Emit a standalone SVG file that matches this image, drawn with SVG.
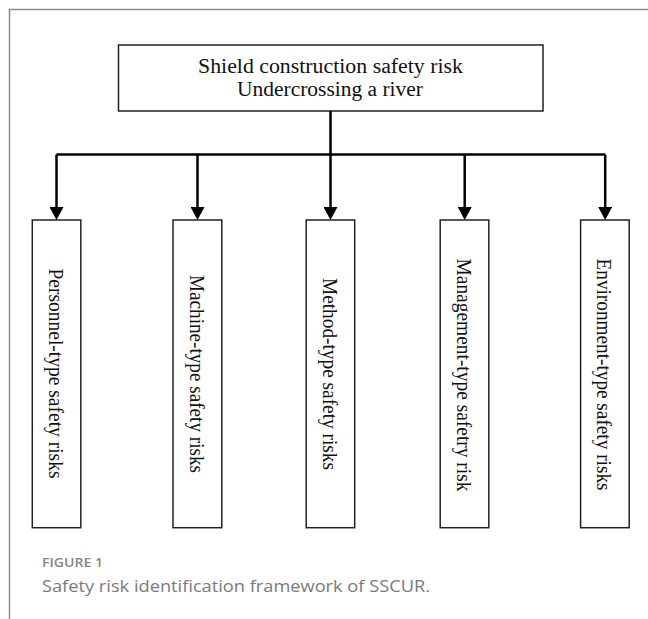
<svg xmlns="http://www.w3.org/2000/svg" width="648" height="619" viewBox="0 0 648 619">
  <style>
    .box { fill: #ffffff; stroke: #222222; stroke-width: 1.5; }
    .conn { fill: none; stroke: #000000; stroke-width: 2.5; }
    .t { font-family: "Liberation Serif", "Times New Roman", serif; fill: #111111; }
    .vt { font-family: "Liberation Serif", "Times New Roman", serif; font-size: 22px; fill: #111111; text-anchor: middle; dominant-baseline: central; }
    .cap1 { font-family: "Open Sans", "Noto Sans", sans-serif; font-size: 12.5px; font-weight: 600; fill: #858585; }
    .cap2 { font-family: "Open Sans", "Noto Sans", sans-serif; font-size: 16px; fill: #7a7a7a; }
  </style>
  <defs>
    <marker id="ah" markerUnits="userSpaceOnUse" markerWidth="14" markerHeight="14" refX="3" refY="7" orient="auto">
      <path d="M0,0 L13,7 L0,14 z" fill="#000000"/>
    </marker>
  </defs>
  <rect x="0" y="0" width="648" height="619" fill="#ffffff"/>
  <path d="M9.5,619 V9.5 H648" fill="none" stroke="#8a8a8a" stroke-width="1.5"/>

  <g id="root">
    <rect class="box" x="118.5" y="45" width="424.5" height="66"/>
    <text class="t" x="198" y="72.7" font-size="20.5" textLength="265" lengthAdjust="spacingAndGlyphs">Shield construction safety risk</text>
    <text class="t" x="237" y="96" font-size="20.5" textLength="186" lengthAdjust="spacingAndGlyphs">Undercrossing a river</text>
  </g>

  <g id="connectors">
    <path class="conn" d="M330.5,111 V154.5"/>
    <path class="conn" d="M56.5,154.5 H605.2"/>
    <path class="conn" d="M56.5,154.5 V210" marker-end="url(#ah)"/>
    <path class="conn" d="M197.5,154.5 V210" marker-end="url(#ah)"/>
    <path class="conn" d="M330.5,154.5 V210" marker-end="url(#ah)"/>
    <path class="conn" d="M464.7,154.5 V210" marker-end="url(#ah)"/>
    <path class="conn" d="M605.2,154.5 V210" marker-end="url(#ah)"/>
  </g>

  <g id="personnel">
    <rect class="box" x="32.3" y="220" width="48.5" height="307.7"/>
    <text class="vt" transform="translate(56.5,373.5) rotate(90)" textLength="210" lengthAdjust="spacingAndGlyphs">Personnel-type safety risks</text>
  </g>
  <g id="machine">
    <rect class="box" x="173" y="220" width="48.8" height="307.7"/>
    <text class="vt" transform="translate(197.4,374) rotate(90)" textLength="198" lengthAdjust="spacingAndGlyphs">Machine-type safety risks</text>
  </g>
  <g id="method">
    <rect class="box" x="306.2" y="220" width="48.5" height="307.7"/>
    <text class="vt" transform="translate(330.5,374) rotate(90)" textLength="192" lengthAdjust="spacingAndGlyphs">Method-type safety risks</text>
  </g>
  <g id="management">
    <rect class="box" x="440.2" y="220" width="48.6" height="307.7"/>
    <text class="vt" transform="translate(464.5,375) rotate(90)" textLength="233" lengthAdjust="spacingAndGlyphs">Management-type safetry risk</text>
  </g>
  <g id="environment">
    <rect class="box" x="580.6" y="220" width="48.6" height="307.7"/>
    <text class="vt" transform="translate(604.9,374.5) rotate(90)" textLength="232" lengthAdjust="spacingAndGlyphs">Environment-type safety risks</text>
  </g>

  <text class="cap1" x="42" y="567" textLength="61" lengthAdjust="spacingAndGlyphs">FIGURE 1</text>
  <text class="cap2" x="42" y="592" textLength="388" lengthAdjust="spacingAndGlyphs">Safety risk identification framework of SSCUR.</text>
</svg>
